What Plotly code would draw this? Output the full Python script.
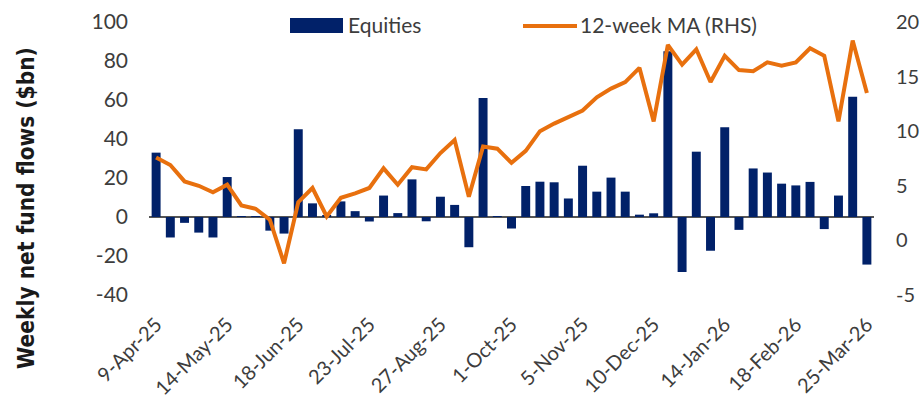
import pandas as pd
import plotly.graph_objects as go

# ---- data ----
weeks = [d.strftime("%Y-%m-%d") for d in pd.date_range("2025-04-09", periods=51, freq="7D")]

equities = [33, -10.5, -3, -8, -10.5, 20.5, 0.5, 0.3, -7, -8.5,
            45, 7, 1, 8, 3, -2.3, 11, 2, 19.3, -2.2,
            10.4, 6.2, -15.5, 61, 0.3, -5.9, 15.9, 18.1, 17.8, 9.5,
            26.3, 13, 20.2, 13, 1.2, 1.9, 85, -28.2, 33.5, -17.3,
            46, -6.6, 24.9, 22.8, 17.1, 16.2, 18, -6.2, 11, 61.7,
            -24.4]

ma12 = [7.6, 6.9, 5.4, 5.0, 4.4, 5.1, 3.2, 2.9, 1.9, -2.1,
        3.5, 4.8, 2.2, 3.9, 4.3, 4.8, 6.6, 5.1, 6.7, 6.5,
        8.0, 9.2, 4.0, 8.6, 8.4, 7.1, 8.2, 10.0, 10.7, 11.3,
        11.9, 13.1, 13.9, 14.5, 15.8, 10.9, 17.9, 16.1, 17.5, 14.5,
        16.9, 15.6, 15.5, 16.3, 16.0, 16.3, 17.6, 16.9, 10.9, 18.3,
        13.5]

tick_idx = [0, 5, 10, 15, 20, 25, 30, 35, 40, 45, 50]
tick_labels = ["9-Apr-25", "14-May-25", "18-Jun-25", "23-Jul-25", "27-Aug-25",
               "1-Oct-25", "5-Nov-25", "10-Dec-25", "14-Jan-26", "18-Feb-26", "25-Mar-26"]

left_ticks = [-40, -20, 0, 20, 40, 60, 80, 100]
left_tick_text = ["-40", "-20", "0", "20", "40", "60", "80", "100"]
right_ticks = [-5, 0, 5, 10, 15, 20]
right_tick_text = ["-5", "0", "5", "10", "15", "20"]

NAVY = "#012169"
ORANGE = "#E8700E"
TXT = "#3d3d3d"
FONT = "Lato, Roboto, sans-serif"
TITLE_FONT = "DejaVu Sans Condensed, DejaVu Sans, sans-serif"

# plot-area geometry (pixels) used to place the manual legend
L, R, T, B = 149, 874, 22, 295
W, H = R - L, B - T


def px(x):
    return (x - L) / W


def py(y):
    return (B - y) / H


fig = go.Figure()
fig.add_trace(go.Bar(x=weeks, y=equities, name="Equities", marker_color=NAVY,
                     marker_line_width=0, yaxis="y"))
fig.add_trace(go.Scatter(x=weeks, y=ma12, name="12-week MA (RHS)", mode="lines",
                         line=dict(color=ORANGE, width=4), yaxis="y2"))

fig.update_layout(
    width=920, height=408,
    margin=dict(l=L, r=920 - R, t=T, b=408 - B, autoexpand=False),
    paper_bgcolor="white", plot_bgcolor="white",
    showlegend=False,
    bargap=0.37,
    font=dict(family=FONT, size=21, color=TXT),
    xaxis=dict(type="category", range=[-0.5, 50.5], automargin=False,
               tickvals=[weeks[i] for i in tick_idx], ticktext=tick_labels,
               tickangle=-45, tickfont=dict(size=20, color=TXT),
               ticklabelstandoff=13,
               showgrid=False, showline=False, ticks=""),
    yaxis=dict(range=[-40, 100], tickvals=left_ticks, ticktext=left_tick_text,
               showgrid=False, automargin=False,
               zeroline=True, zerolinecolor="#555555", zerolinewidth=2,
               showline=False, ticks="", ticklabelstandoff=20,
               tickfont=dict(size=21, color=TXT)),
    yaxis2=dict(range=[-5, 20], tickvals=right_ticks, ticktext=right_tick_text,
                overlaying="y", side="right",
                showgrid=False, zeroline=False, showline=False, ticks="", automargin=False,
                ticklabelstandoff=21, tickfont=dict(size=20, color=TXT)),
)

# y-axis title
fig.add_annotation(text="<b>Weekly net fund flows ($bn)</b>", textangle=-90,
                   xref="paper", yref="paper", x=px(26), y=py(208),
                   xanchor="center", yanchor="middle", showarrow=False,
                   font=dict(family=TITLE_FONT, size=22.5, color="#1a1a1a"))

# manual legend
fig.add_shape(type="rect", xref="paper", yref="paper",
              x0=px(290), x1=px(343), y0=py(33), y1=py(18),
              fillcolor=NAVY, line_width=0)
fig.add_annotation(text="Equities", xref="paper", yref="paper",
                   x=px(346), y=py(25), xanchor="left", yanchor="middle",
                   showarrow=False, font=dict(family=FONT, size=21, color=TXT))
fig.add_shape(type="line", xref="paper", yref="paper",
              x0=px(523), x1=px(577), y0=py(26), y1=py(26),
              line=dict(color=ORANGE, width=4))
fig.add_annotation(text="12-week MA (RHS)", xref="paper", yref="paper",
                   x=px(578), y=py(25), xanchor="left", yanchor="middle",
                   showarrow=False, font=dict(family=FONT, size=21, color=TXT))

# the page's default 8px body margin would offset and clip the 920x408 figure
fig.write_html("out.html", config={"displayModeBar": False},
               post_script="document.body.style.margin='0';")
